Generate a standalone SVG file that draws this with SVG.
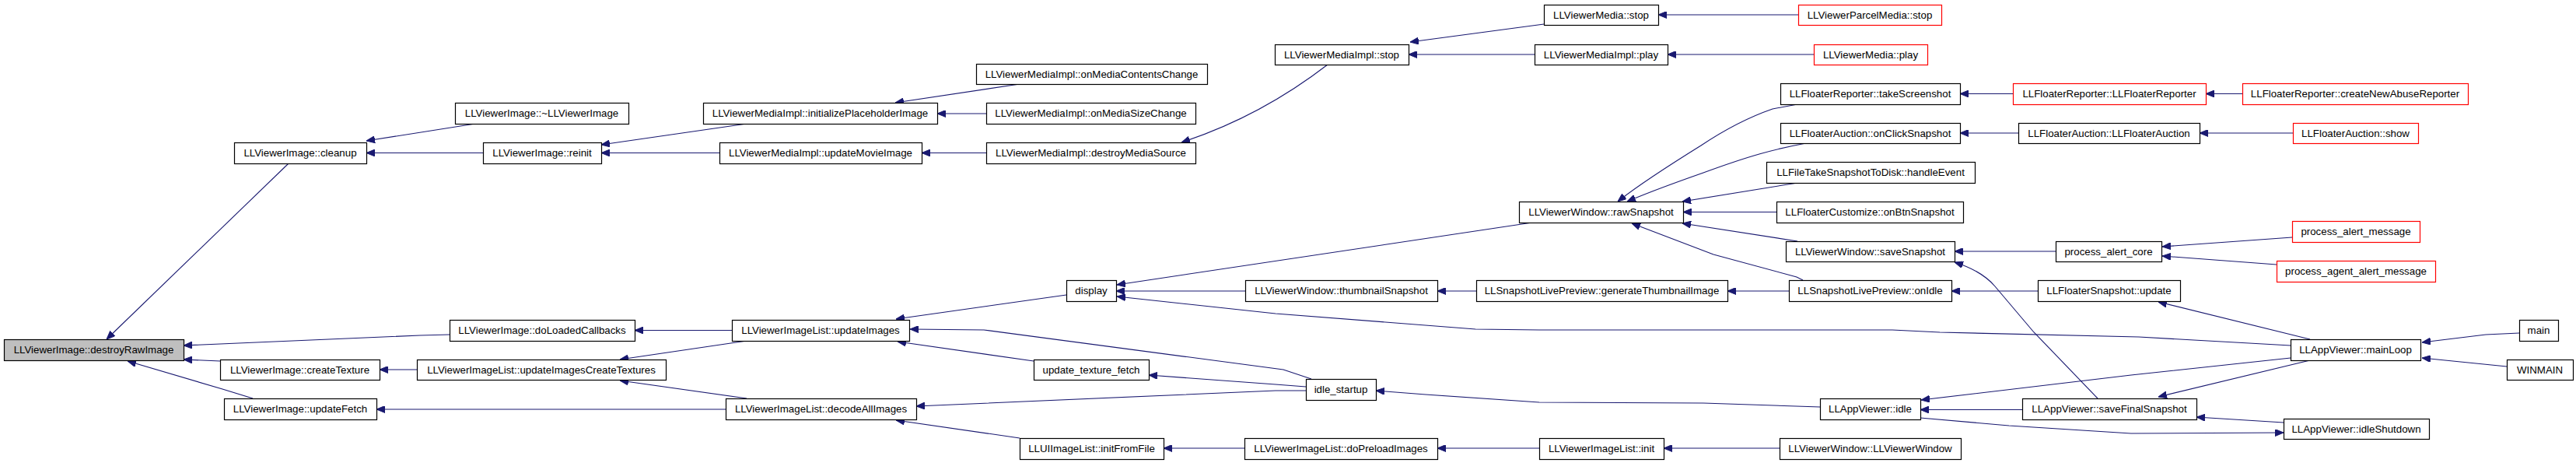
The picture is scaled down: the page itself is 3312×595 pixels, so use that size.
<svg xmlns="http://www.w3.org/2000/svg" width="3312" height="595" viewBox="0 0 3312 595">
<defs>
<marker id="a" viewBox="0 0 11 9" refX="11" refY="4.5" markerUnits="userSpaceOnUse" markerWidth="11" markerHeight="9" orient="auto">
<path d="M0,0 L11,4.5 L0,9 z" fill="#191970" stroke="#191970" stroke-width="1"/>
</marker>
<style>
.n rect{fill:#fff;stroke:#000;stroke-width:1.2}
.r rect{stroke:#f00}
.g rect{fill:#bfbfbf}
text{font-family:"Liberation Sans",Arial,sans-serif;font-size:13.3px;text-anchor:middle;fill:#000}
.e path{fill:none;stroke:#191970;stroke-width:1.1;marker-end:url(#a)}
</style>
</defs>
<rect width="3312" height="595" fill="#fff"/>
<g id="edges" class="e">
<path d="M371,210 L137,436"/>
<path d="M578,430 L540,431 L236,444"/>
<path d="M283,464 L236,462"/>
<path d="M325,512 L286,500 L164,464"/>
<path d="M611,159 L471,181"/>
<path d="M621,196.5 L471,196.5"/>
<path d="M960,159 L773,186"/>
<path d="M925,196.5 L773,196.5"/>
<path d="M1311,108 L1151,132"/>
<path d="M1268,146 L1205,146"/>
<path d="M1268,196.5 L1185,196.5"/>
<path d="M1707,83 Q1620,150 1519,183"/>
<path d="M1985,31 L1813,54"/>
<path d="M1973,70 L1811,70"/>
<path d="M2312,19 L2132,19"/>
<path d="M2332,70 L2144,70"/>
<path d="M941,424.5 L816,424.5"/>
<path d="M960,438 L797,462"/>
<path d="M960,512 L797,489"/>
<path d="M933,526 L484,526"/>
<path d="M536,475 L488,475"/>
<path d="M1371,379 L1152,410"/>
<path d="M1686,487 L1650,475 L1265,424 L1170,423"/>
<path d="M1329,464 L1154,439"/>
<path d="M1679,497 L1640,494 L1477,482"/>
<path d="M1679,502 L1640,502 L1178,522"/>
<path d="M1311,563 L1152,540"/>
<path d="M1600,576 L1496,576"/>
<path d="M1979,576 L1848,576"/>
<path d="M2288,576 L2139,576"/>
<path d="M1970,286 L1436,366"/>
<path d="M1601,374 L1435,374"/>
<path d="M2945,444 L2750,433 L2494,427 L2433,424 L1979,424 L1897,423 L1640,403 L1436,381"/>
<path d="M1898,374 L1848,374"/>
<path d="M2300,374 L2221,374"/>
<path d="M2318,360 L2310,356 L2203,327 L2098,287"/>
<path d="M2311,134 L2279,140 C2250,150 2220,165 2187,187 C2150,210 2110,235 2080,259"/>
<path d="M2322,184 C2280,192 2250,200 2190,222 C2150,236 2120,247 2092,259"/>
<path d="M2311,235 L2163,259"/>
<path d="M2284,272.5 L2164,272.5"/>
<path d="M2311,310 L2163,287"/>
<path d="M2643,323 L2513,323"/>
<path d="M2697,512 L2615,427 L2565,368 Q2548,348 2513,337"/>
<path d="M2620,374 L2509,374"/>
<path d="M2947,305 L2780,317"/>
<path d="M2927,340 L2780,329"/>
<path d="M2588,120.5 L2520,120.5"/>
<path d="M2883,120.5 L2836,120.5"/>
<path d="M2595,171 L2520,171"/>
<path d="M2948,171 L2828,171"/>
<path d="M2970,436 L2775,388"/>
<path d="M2945,460 L2740,482 L2470,514"/>
<path d="M2970,463 L2775,510"/>
<path d="M3239,428 L3196,430 L3114,440"/>
<path d="M3223,471 L3114,460"/>
<path d="M2340,523 L2190,518 L1979,517 L1833,507 L1769,502"/>
<path d="M2600,526.5 L2469,526.5"/>
<path d="M2469,537 L2583,547 L2740,557 L2936,556"/>
<path d="M2936,543 L2824,536"/>
</g>
<g id="destroyRawImage" class="n g"><rect x="5.5" y="436.5" width="231" height="27"/><text x="120.5" y="454">LLViewerImage::destroyRawImage</text></g>
<g id="cleanup" class="n"><rect x="301.5" y="183.5" width="170" height="27"/><text x="386" y="201">LLViewerImage::cleanup</text></g>
<g id="createTexture" class="n"><rect x="283.5" y="462.5" width="205" height="26"/><text x="385.5" y="480">LLViewerImage::createTexture</text></g>
<g id="updateFetch" class="n"><rect x="288.5" y="512.5" width="196" height="27"/><text x="386" y="530">LLViewerImage::updateFetch</text></g>
<g id="dtor" class="n"><rect x="585.5" y="132.5" width="223" height="27"/><text x="696.5" y="150">LLViewerImage::~LLViewerImage</text></g>
<g id="reinit" class="n"><rect x="621.5" y="183.5" width="152" height="27"/><text x="697" y="201">LLViewerImage::reinit</text></g>
<g id="doLoadedCallbacks" class="n"><rect x="578.5" y="411.5" width="238" height="27"/><text x="697" y="429">LLViewerImage::doLoadedCallbacks</text></g>
<g id="updateImagesCreateTextures" class="n"><rect x="536.5" y="462.5" width="320" height="26"/><text x="696" y="480">LLViewerImageList::updateImagesCreateTextures</text></g>
<g id="initializePlaceholderImage" class="n"><rect x="904.5" y="132.5" width="301" height="27"/><text x="1054.5" y="150">LLViewerMediaImpl::initializePlaceholderImage</text></g>
<g id="updateMovieImage" class="n"><rect x="925.5" y="183.5" width="260" height="27"/><text x="1055" y="201">LLViewerMediaImpl::updateMovieImage</text></g>
<g id="updateImages" class="n"><rect x="941.5" y="411.5" width="228" height="27"/><text x="1055" y="429">LLViewerImageList::updateImages</text></g>
<g id="decodeAllImages" class="n"><rect x="933.5" y="512.5" width="245" height="27"/><text x="1055.5" y="530">LLViewerImageList::decodeAllImages</text></g>
<g id="onMediaContentsChange" class="n"><rect x="1255.5" y="82.5" width="297" height="26"/><text x="1403.5" y="100">LLViewerMediaImpl::onMediaContentsChange</text></g>
<g id="onMediaSizeChange" class="n"><rect x="1268.5" y="132.5" width="269" height="27"/><text x="1402.5" y="150">LLViewerMediaImpl::onMediaSizeChange</text></g>
<g id="destroyMediaSource" class="n"><rect x="1268.5" y="183.5" width="269" height="27"/><text x="1402.5" y="201">LLViewerMediaImpl::destroyMediaSource</text></g>
<g id="display" class="n"><rect x="1371.5" y="360.5" width="64" height="27"/><text x="1403" y="378">display</text></g>
<g id="update_texture_fetch" class="n"><rect x="1329.5" y="462.5" width="148" height="26"/><text x="1403" y="480">update_texture_fetch</text></g>
<g id="initFromFile" class="n"><rect x="1311.5" y="563.5" width="185" height="27"/><text x="1403.5" y="581">LLUIImageList::initFromFile</text></g>
<g id="mediaImplStop" class="n"><rect x="1639.5" y="57.5" width="172" height="26"/><text x="1725" y="75">LLViewerMediaImpl::stop</text></g>
<g id="thumbnailSnapshot" class="n"><rect x="1601.5" y="360.5" width="247" height="27"/><text x="1724.5" y="378">LLViewerWindow::thumbnailSnapshot</text></g>
<g id="idle_startup" class="n"><rect x="1679.5" y="487.5" width="90" height="27"/><text x="1724" y="505">idle_startup</text></g>
<g id="doPreloadImages" class="n"><rect x="1600.5" y="563.5" width="248" height="27"/><text x="1724" y="581">LLViewerImageList::doPreloadImages</text></g>
<g id="mediaStop" class="n"><rect x="1985.5" y="6.5" width="147" height="26"/><text x="2058.5" y="24">LLViewerMedia::stop</text></g>
<g id="mediaImplPlay" class="n"><rect x="1973.5" y="57.5" width="171" height="26"/><text x="2058.5" y="75">LLViewerMediaImpl::play</text></g>
<g id="rawSnapshot" class="n"><rect x="1953.5" y="259.5" width="211" height="27"/><text x="2058.5" y="277">LLViewerWindow::rawSnapshot</text></g>
<g id="generateThumbnailImage" class="n"><rect x="1898.5" y="360.5" width="323" height="27"/><text x="2059.5" y="378">LLSnapshotLivePreview::generateThumbnailImage</text></g>
<g id="imageListInit" class="n"><rect x="1979.5" y="563.5" width="160" height="27"/><text x="2059" y="581">LLViewerImageList::init</text></g>
<g id="parcelMediaStop" class="n r"><rect x="2312.5" y="6.5" width="184" height="26"/><text x="2404" y="24">LLViewerParcelMedia::stop</text></g>
<g id="mediaPlay" class="n r"><rect x="2332.5" y="57.5" width="146" height="26"/><text x="2405" y="75">LLViewerMedia::play</text></g>
<g id="takeScreenshot" class="n"><rect x="2289.5" y="107.5" width="231" height="27"/><text x="2404.5" y="125">LLFloaterReporter::takeScreenshot</text></g>
<g id="onClickSnapshot" class="n"><rect x="2289.5" y="158.5" width="231" height="26"/><text x="2404.5" y="176">LLFloaterAuction::onClickSnapshot</text></g>
<g id="handleEvent" class="n"><rect x="2271.5" y="208.5" width="268" height="27"/><text x="2405" y="226">LLFileTakeSnapshotToDisk::handleEvent</text></g>
<g id="onBtnSnapshot" class="n"><rect x="2284.5" y="259.5" width="240" height="27"/><text x="2404" y="277">LLFloaterCustomize::onBtnSnapshot</text></g>
<g id="saveSnapshot" class="n"><rect x="2296.5" y="310.5" width="217" height="26"/><text x="2404.5" y="328">LLViewerWindow::saveSnapshot</text></g>
<g id="onIdle" class="n"><rect x="2300.5" y="360.5" width="209" height="27"/><text x="2404.5" y="378">LLSnapshotLivePreview::onIdle</text></g>
<g id="appIdle" class="n"><rect x="2340.5" y="512.5" width="129" height="27"/><text x="2404.5" y="530">LLAppViewer::idle</text></g>
<g id="viewerWindowCtor" class="n"><rect x="2288.5" y="563.5" width="233" height="27"/><text x="2404.5" y="581">LLViewerWindow::LLViewerWindow</text></g>
<g id="floaterReporterCtor" class="n r"><rect x="2588.5" y="107.5" width="248" height="27"/><text x="2712" y="125">LLFloaterReporter::LLFloaterReporter</text></g>
<g id="floaterAuctionCtor" class="n"><rect x="2595.5" y="158.5" width="233" height="26"/><text x="2711.5" y="176">LLFloaterAuction::LLFloaterAuction</text></g>
<g id="process_alert_core" class="n"><rect x="2643.5" y="310.5" width="136" height="26"/><text x="2711" y="328">process_alert_core</text></g>
<g id="floaterSnapshotUpdate" class="n"><rect x="2620.5" y="360.5" width="183" height="27"/><text x="2711.5" y="378">LLFloaterSnapshot::update</text></g>
<g id="saveFinalSnapshot" class="n"><rect x="2600.5" y="512.5" width="224" height="27"/><text x="2712" y="530">LLAppViewer::saveFinalSnapshot</text></g>
<g id="createNewAbuseReporter" class="n r"><rect x="2883.5" y="107.5" width="290" height="27"/><text x="3028" y="125">LLFloaterReporter::createNewAbuseReporter</text></g>
<g id="floaterAuctionShow" class="n r"><rect x="2948.5" y="158.5" width="161" height="26"/><text x="3028.5" y="176">LLFloaterAuction::show</text></g>
<g id="process_alert_message" class="n r"><rect x="2947.5" y="284.5" width="164" height="27"/><text x="3029" y="302">process_alert_message</text></g>
<g id="process_agent_alert_message" class="n r"><rect x="2927.5" y="335.5" width="204" height="27"/><text x="3029" y="353">process_agent_alert_message</text></g>
<g id="mainLoop" class="n"><rect x="2945.5" y="436.5" width="167" height="27"/><text x="3028.5" y="454">LLAppViewer::mainLoop</text></g>
<g id="idleShutdown" class="n"><rect x="2936.5" y="538.5" width="187" height="26"/><text x="3029.5" y="556">LLAppViewer::idleShutdown</text></g>
<g id="main" class="n"><rect x="3239.5" y="411.5" width="50" height="27"/><text x="3264" y="429">main</text></g>
<g id="WINMAIN" class="n"><rect x="3223.5" y="462.5" width="85" height="26"/><text x="3265.5" y="480">WINMAIN</text></g>
</svg>
